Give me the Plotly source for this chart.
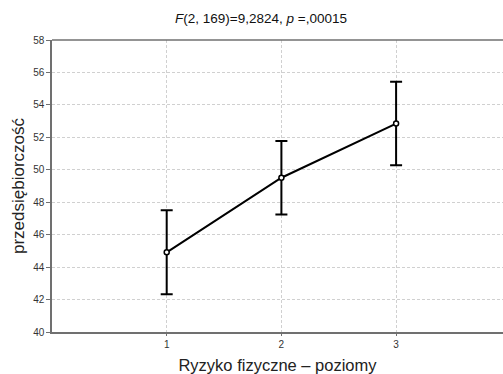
import plotly.graph_objects as go

# Group means with error bars for three levels of physical risk
levels = [1, 2, 3]
means = [44.91, 49.51, 52.85]
err = [2.59, 2.27, 2.57]
y_ticks = [40, 42, 44, 46, 48, 50, 52, 54, 56, 58]

font = "Liberation Sans, Arial, sans-serif"
axis_col = "#707070"
grid_col = "#d0d0d0"

fig = go.Figure()
fig.add_trace(go.Scatter(
    x=levels, y=means, mode="lines+markers",
    line=dict(color="black", width=2),
    marker=dict(symbol="circle", size=5, color="white",
                line=dict(color="black", width=1.5)),
    error_y=dict(type="data", array=err, visible=True,
                 color="black", thickness=2, width=6),
    showlegend=False,
))

fig.update_layout(
    width=503, height=374,
    margin=dict(l=52, r=0, t=40, b=42),
    paper_bgcolor="white", plot_bgcolor="white",
    font=dict(family=font, color="#222"),
    title=dict(
        text="<i>F</i>(2, 169)=9,2824, <i>p</i> =,00015",
        x=261 / 503, xanchor="center", y=1 - 18 / 374, yanchor="middle",
        font=dict(size=13.5, family=font, color="#111"),
    ),
)

fig.update_xaxes(
    range=[0, (503 - 52) / 114.7],
    tickvals=levels, ticktext=[str(v) for v in levels],
    tickfont=dict(size=10, color="#333"),
    ticks="outside", ticklen=2, tickcolor=axis_col,
    showline=True, linecolor=axis_col, linewidth=1.5, mirror=False,
    showgrid=True, gridcolor=grid_col, griddash="3px,2px", gridwidth=1,
    zeroline=False,
    title=dict(text="Ryzyko fizyczne – poziomy",
               font=dict(size=16.5, color="#222"), standoff=11),
)
fig.update_yaxes(
    range=[40, 58],
    tickvals=y_ticks, ticktext=[str(v) for v in y_ticks],
    tickfont=dict(size=10, color="#333"),
    ticks="outside", ticklen=4, tickcolor=axis_col,
    showline=True, linecolor=axis_col, linewidth=1.5,
    showgrid=True, gridcolor=grid_col, griddash="3px,2px", gridwidth=1,
    zeroline=False,
    title=dict(text="przedsiębiorczość",
               font=dict(size=17, color="#222"), standoff=4),
)

# Top border of the plotting area
fig.add_shape(type="line", xref="paper", yref="paper",
              x0=0, x1=1, y0=1, y1=1,
              line=dict(color=axis_col, width=1.5))

fig.write_html("out.html")
